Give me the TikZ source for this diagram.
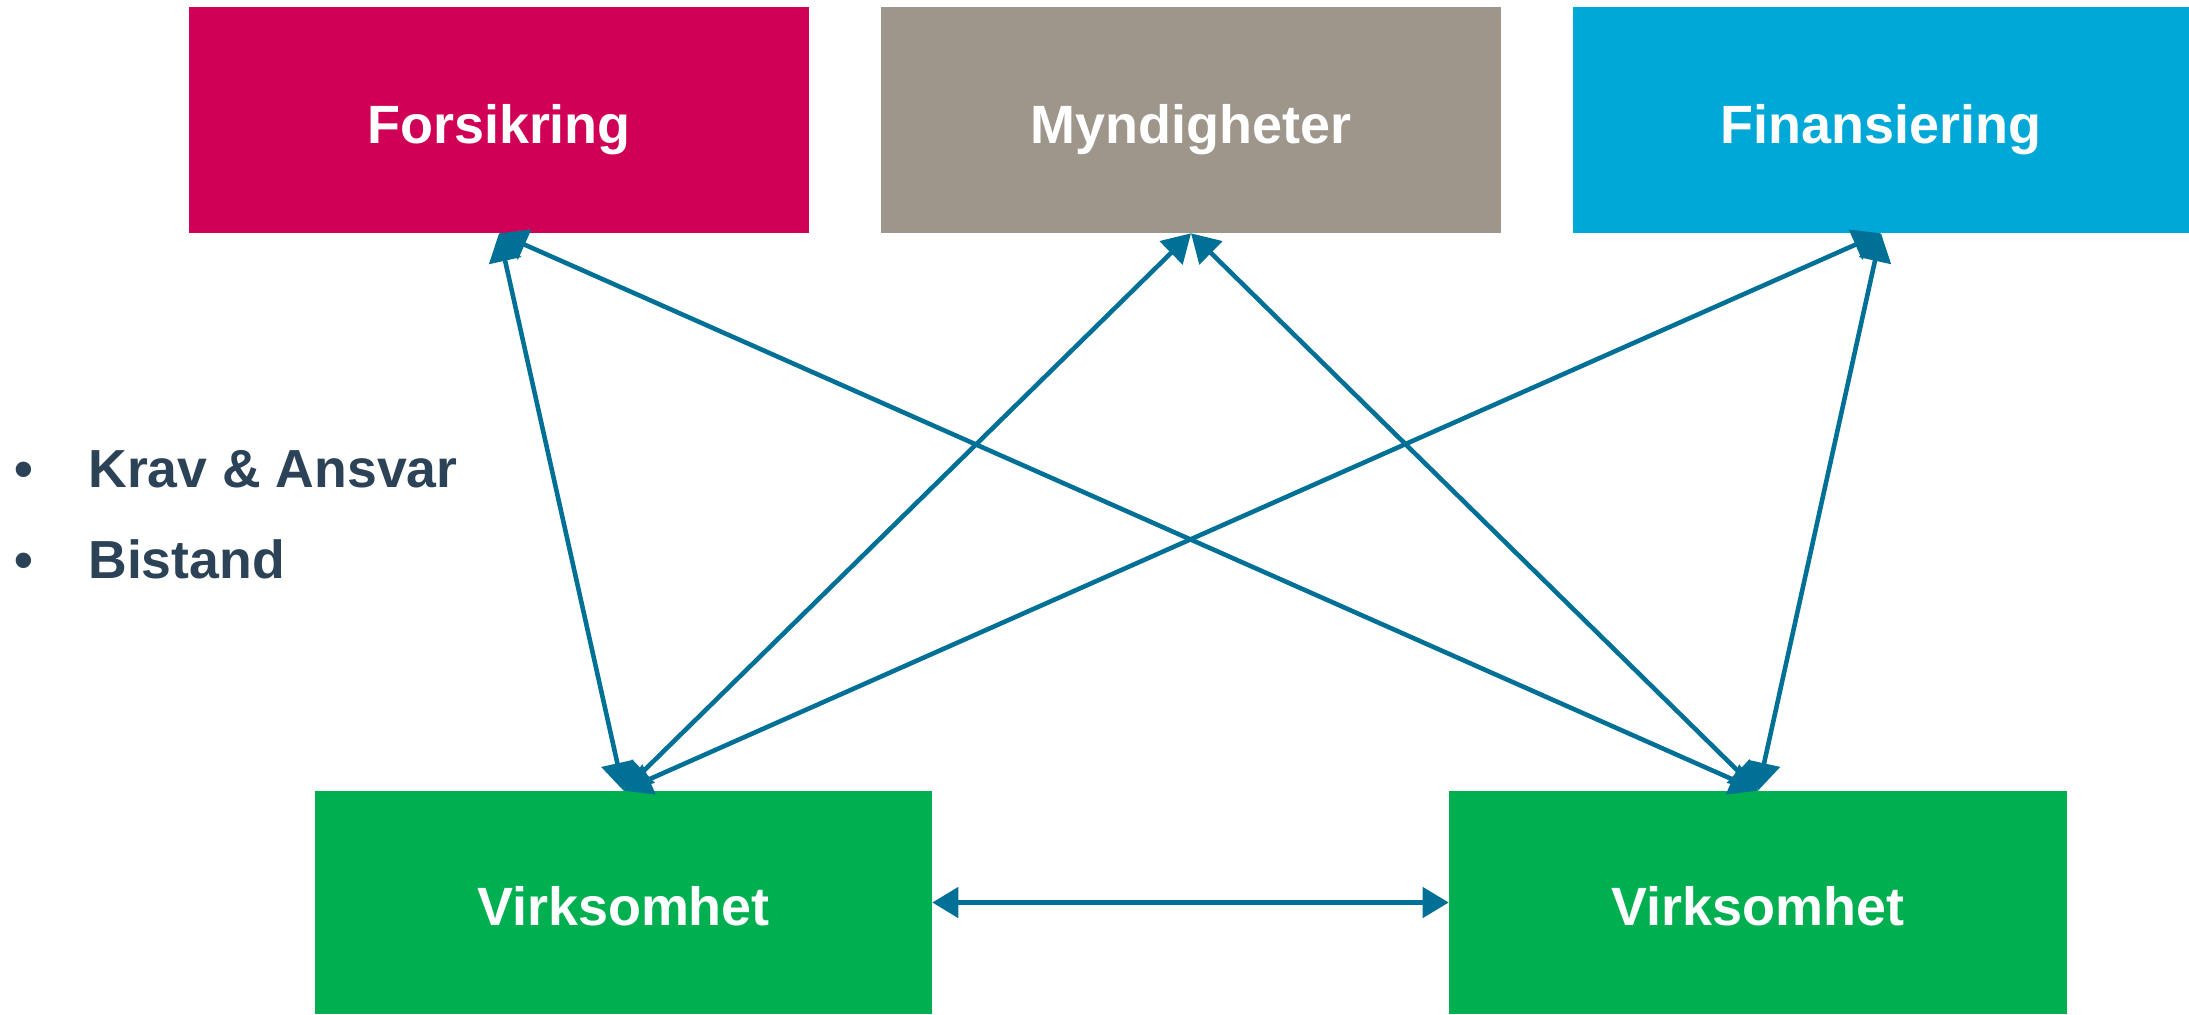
\documentclass[tikz,border=0pt]{standalone}
\usepackage{fontspec}
\setmainfont{Liberation Sans}
\usetikzlibrary{arrows.meta}
\definecolor{cForsikring}{HTML}{D00057}
\definecolor{cMynd}{HTML}{9E968A}
\definecolor{cFinans}{HTML}{00A8D8}
\definecolor{cGreen}{HTML}{00AF50}
\definecolor{cArrow}{HTML}{007096}
\definecolor{cText}{HTML}{2B4257}
\tikzset{
  box/.style={rectangle, inner sep=0pt, text=white, text height=26.6pt, text depth=0pt, font=\fontsize{30.7}{36}\selectfont\bfseries},
  link/.style={draw=cArrow, line width=2.6pt, {Triangle[length=0.56cm,width=0.64cm]}-{Triangle[length=0.56cm,width=0.64cm]}},
  hlink/.style={draw=cArrow, line width=2.6pt, {Triangle[length=0.52cm,width=0.6cm]}-{Triangle[length=0.52cm,width=0.6cm]}},
  bullettext/.style={anchor=base west, inner sep=0pt, text=cText, font=\fontsize{30.5}{36}\selectfont\bfseries}
}
\begin{document}
\begin{tikzpicture}[x=0.02cm,y=-0.02cm]
\useasboundingbox (0,0) rectangle (2189,1014);
\node[box, fill=cForsikring, minimum width=12.4cm, minimum height=4.52cm] (fors) at (499,120) {Forsikring};
\node[box, fill=cMynd, minimum width=12.4cm, minimum height=4.52cm] (mynd) at (1191,120) {Myndigheter};
\node[box, fill=cFinans, minimum width=12.32cm, minimum height=4.52cm] (fin) at (1881,120) {Finansiering};
\node[box, fill=cGreen, minimum width=12.34cm, minimum height=4.46cm] (v1) at (623.5,902.5) {Virksomhet};
\node[box, fill=cGreen, minimum width=12.36cm, minimum height=4.46cm] (v2) at (1758,902.5) {Virksomhet};

\draw[link] (fors.south) -- (v1.north);
\draw[link] (mynd.south) -- (v1.north);
\draw[link] (fin.south) -- (v1.north);
\draw[link] (fors.south) -- (v2.north);
\draw[link] (mynd.south) -- (v2.north);
\draw[link] (fin.south) -- (v2.north);
\draw[hlink] (v1.east) -- (v2.west);

\node[bullettext] (b1) at (14,487) {•};
\node[bullettext] (t1) at (88,487) {Krav \& Ansvar};
\node[bullettext] (b2) at (14,578) {•};
\node[bullettext] (t2) at (88,578) {Bistand};
\end{tikzpicture}
\end{document}
